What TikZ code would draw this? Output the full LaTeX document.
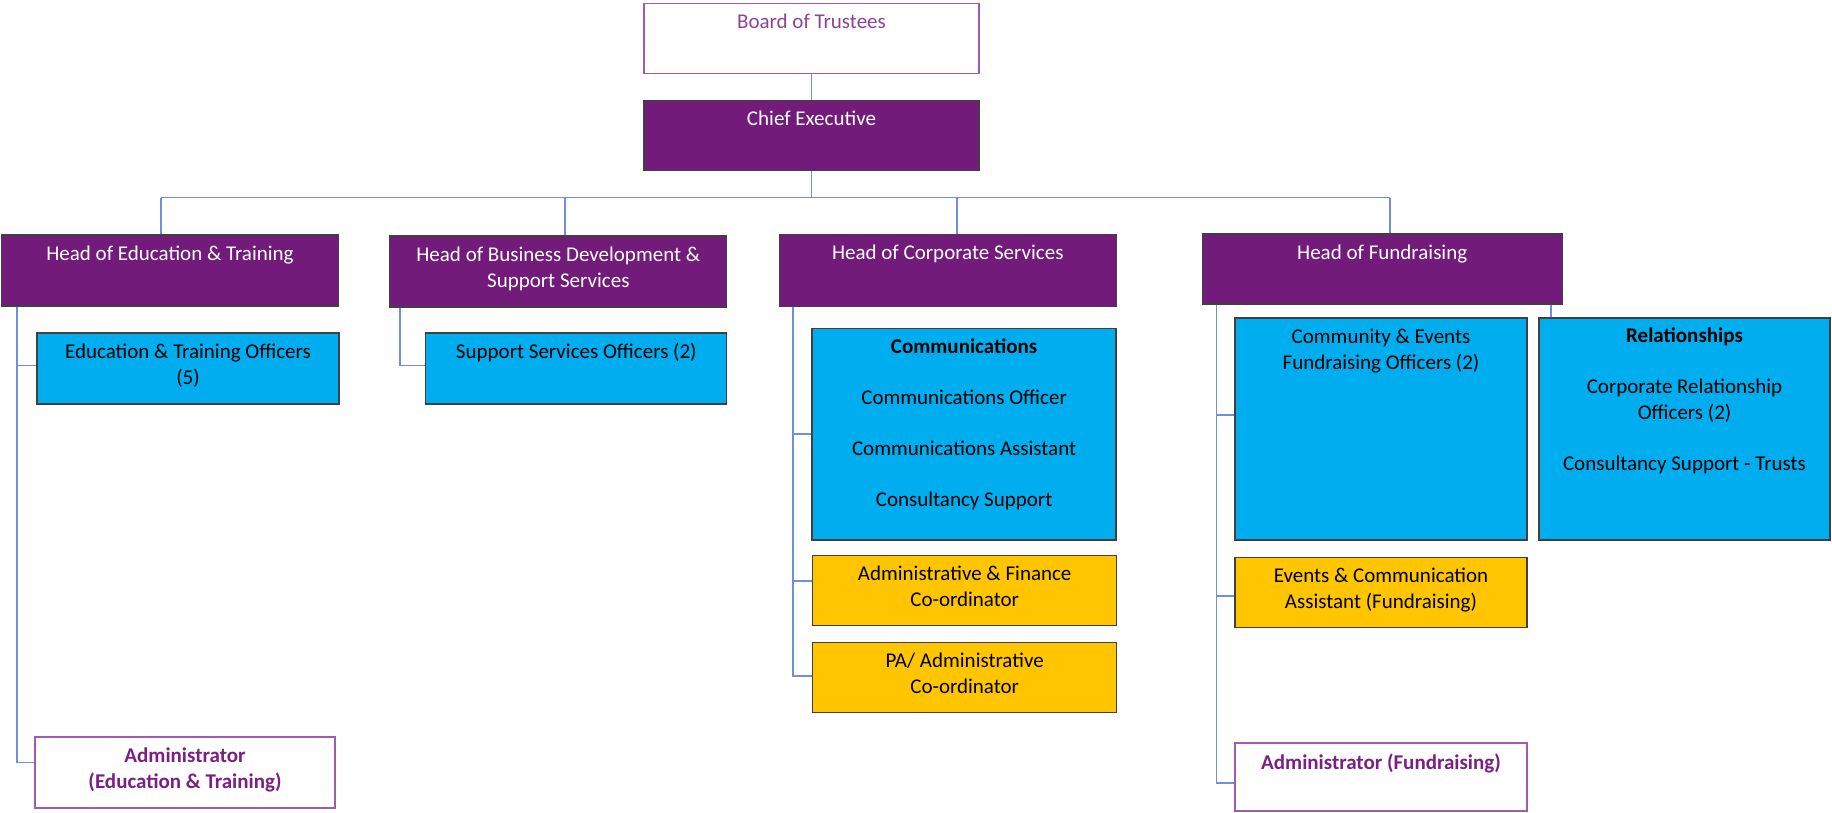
\documentclass[tikz,border=0pt]{standalone}
\usepackage{fontspec}
\setmainfont{Carlito}
\usetikzlibrary{positioning}

\definecolor{orgpurple}{RGB}{114,27,123}
\definecolor{orgblue}{RGB}{0,173,239}
\definecolor{orggold}{RGB}{255,198,0}
\definecolor{orglink}{RGB}{112,143,219}
\definecolor{orgedge}{RGB}{160,90,180}
\definecolor{orgtext}{RGB}{122,32,132}

\tikzset{
  box/.style={draw=black!75, line width=1.3pt, inner sep=0pt},
  head/.style={box, fill=orgpurple},
  team/.style={box, fill=orgblue},
  office/.style={box, fill=orggold},
  outline/.style={box, draw=orgedge, fill=white},
  txt/.style={inner sep=0pt, align=center, font=\fontsize{21}{26}\selectfont},
  link/.style={draw=orglink, line width=1.8pt},
}

\begin{document}
\begin{tikzpicture}[x=1pt, y=-1pt]
    \useasboundingbox (0,0) rectangle (1832,812);

    % top of the tree
    \node[outline, minimum width=335, minimum height=70] (board) at (811.5,38.5) {};
    \node[head, minimum width=335, minimum height=70] (ceo) at (811.5,135.5) {};
    \node[txt, text=orgtext!85, below=11pt of board.north] (boardT) {Board of Trustees};
    \node[txt, text=white, below=11pt of ceo.north] (ceoT) {Chief Executive};

    % heads of department
    \node[head, minimum width=337, minimum height=71] (hedu) at (170,270.4) {};
    \node[head, minimum width=337, minimum height=71] (hbus) at (558.3,271.5) {};
    \node[head, minimum width=337, minimum height=72] (hcorp) at (947.8,270.2) {};
    \node[head, minimum width=360, minimum height=70] (hfund) at (1382.2,269) {};
    \node[txt, text=white, below=11pt of hedu.north] (heduT) {Head of Education \& Training};
    \node[txt, text=white, below=11pt of hbus.north] (hbusT) {Head of Business Development \&\\Support Services};
    \node[txt, text=white, below=11pt of hcorp.north] (hcorpT) {Head of Corporate Services};
    \node[txt, text=white, below=11pt of hfund.north] (hfundT) {Head of Fundraising};

    % education & training
    \node[team, minimum width=302, minimum height=71] (eduoff) at (188,368.5) {};
    \node[outline, minimum width=300, minimum height=71] (admedu) at (185,772.5) {};
    \node[txt, below=11pt of eduoff.north] (eduoffT) {Education \& Training Officers\\(5)};
    \node[txt, text=orgtext, font=\fontsize{21}{26}\selectfont\bfseries, below=11pt of admedu.north] (admeduT) {Administrator\\(Education \& Training)};

    % business development
    \node[team, minimum width=301, minimum height=71] (supp) at (576.3,368.5) {};
    \node[txt, below=11pt of supp.north] (suppT) {Support Services Officers (2)};

    % corporate services
    \node[team, minimum width=304, minimum height=211.5] (comms) at (964.1,434.2) {};
    \node[office, minimum width=304, minimum height=70] (afc) at (964.7,590.7) {};
    \node[office, minimum width=304, minimum height=70] (pa) at (964.7,677.8) {};
    \node[txt, below=11pt of comms.north] (commsT) {\textbf{Communications}\\[25pt]Communications Officer\\[25pt]Communications Assistant\\[25pt]Consultancy Support};
    \node[txt, below=11pt of afc.north] (afcT) {Administrative \& Finance\\Co-ordinator};
    \node[txt, below=11pt of pa.north] (paT) {PA/ Administrative\\Co-ordinator};

    % fundraising
    \node[team, minimum width=292, minimum height=222] (cfo) at (1381,429) {};
    \node[team, minimum width=291, minimum height=222] (rel) at (1684.5,429) {};
    \node[office, minimum width=292, minimum height=70] (events) at (1381,592.2) {};
    \node[outline, minimum width=292, minimum height=68] (admfund) at (1381,777) {};
    \node[txt, below=11pt of cfo.north] (cfoT) {Community \& Events\\Fundraising Officers (2)};
    \node[txt, below=10pt of rel.north] (relT) {\textbf{Relationships}\\[25pt]Corporate Relationship\\Officers (2)\\[25pt]Consultancy Support - Trusts};
    \node[txt, below=11pt of events.north] (eventsT) {Events \& Communication\\Assistant (Fundraising)};
    \node[txt, text=orgtext, font=\fontsize{21}{26}\selectfont\bfseries, below=11pt of admfund.north] (admfundT) {Administrator (Fundraising)};

    % connectors
    \coordinate (bus) at (0,197.5);
    \draw[link] (board.south) -- (ceo.north);
    \draw[link] (ceo.south) -- (ceo.south |- bus);
    \draw[link] ([xshift=-9]hedu.north |- bus) -- ([xshift=8]hfund.north |- bus);
    \foreach \n/\dx in {hedu/-9, hbus/7, hcorp/9, hfund/8}
        \draw[link] ([xshift=\dx]\n.north |- bus) -- ([xshift=\dx]\n.north);

    \draw[link] ([xshift=16]hedu.south west) |- ([yshift=3]eduoff.west);
    \draw[link] ([xshift=16]hedu.south west) |- ([yshift=10]admedu.west);
    \draw[link] ([xshift=11]hbus.south west) |- ([yshift=3]supp.west);
    \draw[link] ([xshift=14]hcorp.south west) |- (comms.west);
    \draw[link] ([xshift=14]hcorp.south west) |- ([yshift=10]afc.west);
    \draw[link] ([xshift=14]hcorp.south west) |- ([yshift=2]pa.west);
    \draw[link] ([xshift=15]hfund.south west) |- ([yshift=14]cfo.west);
    \draw[link] ([xshift=15]hfund.south west) |- ([yshift=-4]events.west);
    \draw[link] ([xshift=15]hfund.south west) |- ([yshift=-6]admfund.west);
    \draw[link] ([xshift=13]rel.north west) -- ([xshift=13]rel.north west |- hfund.south);
\end{tikzpicture}
\end{document}
